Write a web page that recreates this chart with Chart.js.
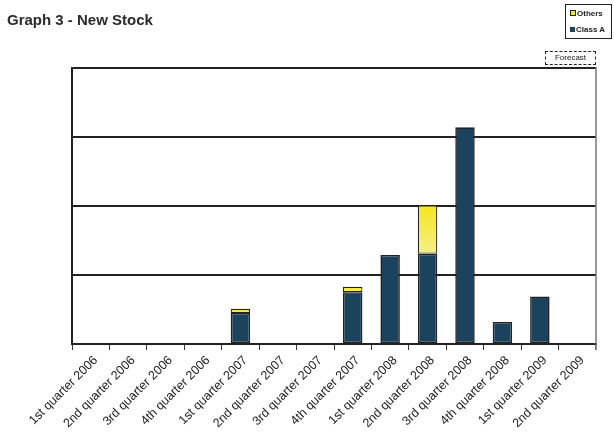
<!DOCTYPE html>
<html>
<head>
<meta charset="utf-8">
<script src="https://cdn.jsdelivr.net/npm/chart.js@4"></script>
<style>
  body { margin: 0; background: #fff; font-family: "Liberation Sans", Arial, sans-serif; }
  #wrap { position: relative; width: 614px; height: 433px; overflow: hidden; }
  #title { position: absolute; left: 7px; top: 11px; font-size: 15px; font-weight: bold; color: #2a2a2a; }
  #legend { position: absolute; left: 565px; top: 4px; width: 45px; height: 33px; border: 1.5px solid #222;
            font-size: 8px; font-weight: bold; color: #222; }
  #legend div { position: absolute; left: 4px; white-space: nowrap; }
  #legend span { display: inline-block; width: 5px; height: 5px; margin-right: 1px; vertical-align: 0px; }
  #forecast { position: absolute; left: 545px; top: 51px; width: 49px; height: 12px; border: 1px dashed #222;
              font-size: 8px; color: #222; text-align: center; line-height: 12px; }
</style>
</head>
<body>
<div id="wrap">
  <canvas id="chart" width="614" height="433"></canvas>
  <div id="title">Graph 3 - New Stock</div>
  <div id="legend">
    <div style="top:4px"><span style="background:#f6e61e;border:1px solid #222;width:4px;height:4px"></span>Others</div>
    <div style="top:20px"><span style="background:#1c435d"></span>Class A</div>
  </div>
  <div id="forecast">Forecast</div>
</div>
<script>
// quarters on the x axis
const quarters = [
  '1st quarter 2006', '2nd quarter 2006', '3rd quarter 2006', '4th quarter 2006',
  '1st quarter 2007', '2nd quarter 2007', '3rd quarter 2007', '4th quarter 2007',
  '1st quarter 2008', '2nd quarter 2008', '3rd quarter 2008', '4th quarter 2008',
  '1st quarter 2009', '2nd quarter 2009'
];
// values (no y labels, one gridline = 1 unit)
const classA = [0, 0, 0, 0, 0.45, 0, 0, 0.75, 1.29, 1.31, 3.14, 0.32, 0.69, 0];
const others = [0, 0, 0, 0, 0.06, 0, 0, 0.08, 0, 0.70, 0, 0, 0, 0];

// yellow fades lighter towards the bottom of each segment
function othersFill(context) {
  const chart = context.chart;
  const y = chart.scales && chart.scales.y;
  const i = context.dataIndex;
  if (!y || i === undefined || !others[i]) return '#f6e61e';
  const top = y.getPixelForValue(classA[i] + others[i]);
  const bottom = y.getPixelForValue(classA[i]);
  const g = chart.ctx.createLinearGradient(0, top, 0, bottom);
  g.addColorStop(0, '#f6e61e');
  g.addColorStop(1, '#f5ee8a');
  return g;
}

const rightBorder = {
  id: 'rightBorder',
  afterDraw(chart) {
    const a = chart.chartArea;
    const ctx = chart.ctx;
    ctx.save();
    ctx.strokeStyle = '#777';
    ctx.lineWidth = 1.5;
    ctx.beginPath();
    ctx.moveTo(a.right, a.top - 1);
    ctx.lineTo(a.right, a.bottom + 6);
    ctx.stroke();
    ctx.restore();
  }
};

new Chart(document.getElementById('chart'), {
  type: 'bar',
  data: {
    labels: quarters,
    datasets: [
      { label: 'Class A', data: classA, backgroundColor: '#1c435d', borderColor: '#222',
        borderWidth: 1.6, borderSkipped: false, barPercentage: 0.52, categoryPercentage: 1 },
      { label: 'Others', data: others, backgroundColor: othersFill, borderColor: '#222',
        borderWidth: 1.2, borderSkipped: false, barPercentage: 0.52, categoryPercentage: 1 }
    ]
  },
  options: {
    responsive: false,
    animation: false,
    layout: { padding: { left: 72, top: 68, right: 18, bottom: 0 } },
    plugins: { legend: { display: false }, title: { display: false }, tooltip: { enabled: false } },
    scales: {
      x: {
        stacked: true,
        offset: true,
        afterFit: (scale) => { scale.height = 89; },
        grid: { offset: true, drawOnChartArea: false, drawTicks: true, tickLength: 6, color: '#333', lineWidth: 1 },
        border: { display: true, color: '#222', width: 2 },
        ticks: {
          minRotation: 45, maxRotation: 45, autoSkip: false, padding: 3, labelOffset: 5,
          color: '#222', font: { family: '"Liberation Sans", Arial', size: 12.5 }
        }
      },
      y: {
        stacked: true,
        min: 0, max: 4,
        ticks: { display: false, stepSize: 1 },
        grid: { color: '#222', lineWidth: 2, drawTicks: false },
        border: { display: true, color: '#222', width: 2 }
      }
    }
  },
  plugins: [rightBorder]
});
</script>
</body>
</html>
